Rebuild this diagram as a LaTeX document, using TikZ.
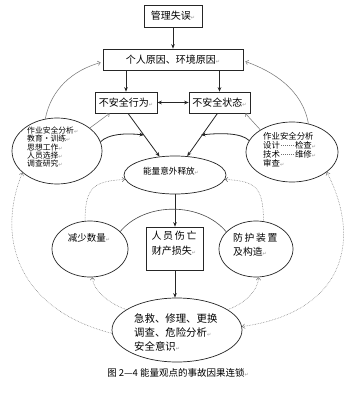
\documentclass[tikz,border=0pt]{standalone}
\usepackage{fontspec}
\setmainfont{Noto Sans CJK SC}
\newfontfamily\djv{DejaVu Sans}
\usetikzlibrary{arrows.meta,calc,shapes.geometric}
\newcommand\ret{{\djv\fontsize{5}{5}\selectfont\textcolor{black!40}{↵}}}
\newcommand\lead{\hbox to 15pt{\textcolor{black!55}{\cleaders\hbox to 2pt{\hss\raisebox{2.8pt}{\rule{0.5pt}{0.5pt}}\hss}\hfill}}}
\begin{document}
\begin{tikzpicture}[x=1pt,y=-1pt,
  line/.style={draw=black!85,line width=0.7pt},
  box/.style={line,rectangle,inner sep=0pt},
  ell/.style={line,ellipse,inner sep=0pt},
  txt/.style={inner sep=0pt},
  darr/.style={black!85,line width=0.8pt,-{Stealth[length=4.5pt,width=3.6pt]}},
  dboth/.style={black!85,line width=0.8pt,{Stealth[length=4.5pt,width=3.6pt]}-{Stealth[length=4.5pt,width=3.6pt]}},
  garr/.style={black!55,line width=0.5pt,-{Straight Barb[length=2.5pt,width=4.5pt]}},
  dotarr/.style={black!55,line width=0.5pt,dash pattern=on 0.6pt off 1pt,-{Straight Barb[length=2.5pt,width=4.5pt]}},
  dotboth/.style={black!55,line width=0.5pt,dash pattern=on 0.6pt off 1pt,{Straight Barb[length=2.5pt,width=4.5pt]}-{Straight Barb[length=2.5pt,width=4.5pt]}},
  arc/.style={black!70,line width=0.6pt}
]
\fill[white] (0,0) rectangle (350,393);
\useasboundingbox (0,0) rectangle (350,393);

% boxes
\node[box,minimum width=58,minimum height=22,font=\fontsize{10}{12}\selectfont] (mgmt) at (173,16) {管理失误\ret};
\node[box,minimum width=140,minimum height=21,font=\fontsize{10}{12}\selectfont] (cause) at (173,59.5) {个人原因、环境原因\ret};
\node[box,minimum width=62,minimum height=21,font=\fontsize{10}{12}\selectfont] (act) at (126,102.5) {不安全行为\ret};
\node[box,minimum width=61,minimum height=21,font=\fontsize{10}{12}\selectfont] (state) at (219.5,102.5) {不安全状态\ret};

% ellipses
\node[ell,minimum width=102,minimum height=38] (energy) at (175,175) {};
\node[txt,font=\fontsize{8.6}{10}\selectfont] (energyt) at (171,171) {能量意外释放\ret};

\node[ell,minimum width=90,minimum height=66] (L) at (57,151) {};
\node[txt,anchor=north west,align=left,font=\fontsize{7.8}{8.4}\selectfont] (Lt) at (27,126.5) {作业安全分析\ret\\教育·训练\ret\\思想工作\ret\\人员选择\ret\\调查研究\ret};

\node[ell,minimum width=92,minimum height=60] (R) at (292,152) {};
\node[txt,anchor=north west,align=left,font=\fontsize{8.4}{9}\selectfont] (Rt) at (263,132) {作业安全分析\\设计\lead 检查\ret\\技术\lead 维修\ret\\审查\ret};

\node[box,minimum width=57,minimum height=43] (loss) at (175,248.5) {};
\node[txt,align=center,font=\fontsize{10}{15}\selectfont] (losst) at (174,243.5) {人\,员\,伤\,亡\\财产损失\ret};

\node[ell,minimum width=76,minimum height=56] (reduce) at (90,249) {};
\node[txt,font=\fontsize{9.5}{11}\selectfont] (reducet) at (89,238) {减少数量\ret};

\node[ell,minimum width=74,minimum height=56] (protect) at (256,249) {};
\node[txt,anchor=west,align=left,font=\fontsize{9.8}{14}\selectfont] (protectt) at (233,245) {防\,护\,装\,置\\及构造\ret};

\node[ell,minimum width=130,minimum height=64] (rescue) at (177,330) {};
\node[txt,anchor=west,align=left,font=\fontsize{10.4}{14}\selectfont] (rescuet) at (134,333) {急救、修理、更换\\调查、危险分析\ret\\安全意识\ret};

\node[txt,font=\fontsize{9.5}{11}\selectfont] (cap) at (178,373) {图 2—4 能量观点的事故因果连锁\ret};

% dark arrows
\draw[darr] (mgmt) -- (cause);
\draw[darr] (act.north |- cause.south) -- (act.north);
\draw[darr] (state.north |- cause.south) -- (state.north);
\draw[dboth] (act.east) -- (state.west);
\draw[darr] ([xshift=2]act.south) -- (energy.130);
\draw[darr] ([xshift=-2]state.south) -- (energy.57);
\draw[darr] (loss.north |- energy.south) -- (loss.north);
\draw[darr] (loss.south) -- (loss.south |- rescue.north);

\coordinate (jl) at (144,135);
\coordinate (jr) at (201,135);
\draw[darr] (L.12) .. controls +(8,-8) and +(-18,-2) .. (jl);
\draw[darr] (R.165) .. controls +(-8,-8) and +(18,-2) .. (jr);

% gray arrows
\draw[garr] (L.35) -- ($(act.south west)+(15,0)$);
\draw[garr] (R.145) -- ($(state.south east)+(-5,0)$);
\draw[garr] (L.110) .. controls +(6,-30) and +(-28,8) .. ($(cause.west)+(-2,3)$);
\draw[garr] (R.60) .. controls +(-6,-34) and +(28,10) .. ($(cause.east)+(2,2)$);

% solid arc between lower ellipses
\draw[arc] (reduce.30) .. controls +(25,-30) and +(-25,-30) .. (protect.150);

% dotted arrows
\draw[dotarr] (reduce.100) .. controls +(0,-35) and +(-30,2) .. (energy.185);
\draw[dotarr] (protect.75) .. controls +(0,-35) and +(30,2) .. (energy.355);
\draw[dotarr] (rescue.158) .. controls +(-18,-6) and +(0,12) .. (reduce.275);
\draw[dotarr] (rescue.22) .. controls +(18,-6) and +(0,12) .. (protect.275);
\draw[dotarr] (rescue.183) .. controls (20,310) and (-5,240) .. (L.212);
\draw[dotboth] (rescue.3) .. controls (345,312) and (362,240) .. (R.330);
\end{tikzpicture}
\end{document}
